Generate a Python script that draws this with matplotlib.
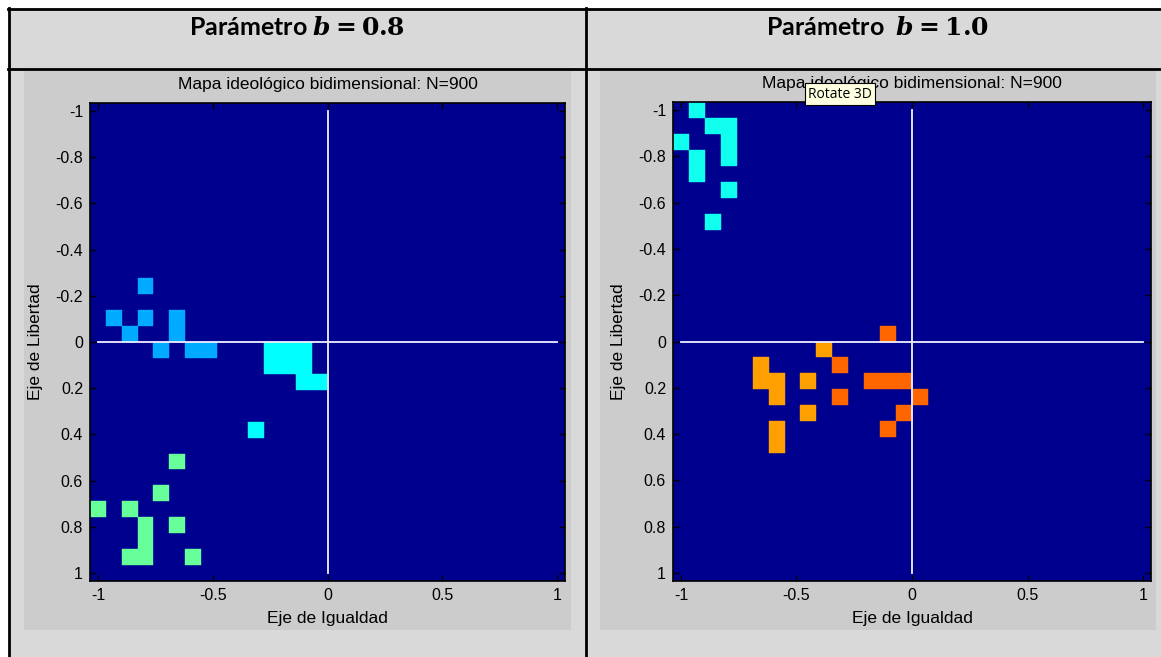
import numpy as np
import matplotlib
matplotlib.use("Agg")
import matplotlib.pyplot as plt
from matplotlib.patches import Rectangle

# 30x30 lattice of agents (N=900); cells given as (column, row) indices
grid = np.linspace(-1, 1, 30)

# b = 0.8
blue_left = [(3, 11), (1, 13), (3, 13), (2, 14), (5, 13), (5, 14), (4, 15), (6, 15), (7, 15)]
cyan_left = [(11, 15), (12, 15), (13, 15), (11, 16), (12, 16), (13, 16), (13, 17), (14, 17), (10, 20)]
green_left = [(5, 22), (4, 24), (0, 25), (2, 25), (3, 26), (3, 27), (3, 28), (2, 28), (5, 26), (6, 28)]

# b = 1.0
cyan_right = [(1, 0), (2, 1), (3, 1), (3, 2), (3, 3), (0, 2), (1, 3), (1, 4), (3, 5), (2, 7)]
orange_right = [(9, 15), (5, 16), (5, 17), (6, 17), (6, 18), (8, 17), (8, 19), (6, 20), (6, 21)]
red_right = [(13, 14), (10, 16), (10, 18), (12, 17), (13, 17), (14, 17), (15, 18), (14, 19), (13, 20)]

x_ticks = [-1, -0.5, 0, 0.5, 1]
x_tick_labels = ["-1", "-0.5", "0", "0.5", "1"]
y_ticks = [-1, -0.8, -0.6, -0.4, -0.2, 0, 0.2, 0.4, 0.6, 0.8, 1]
y_tick_labels = ["-1", "-0.8", "-0.6", "-0.4", "-0.2", "0", "0.2", "0.4", "0.6", "0.8", "1"]

plt.rcParams['mathtext.fontset'] = 'custom'
plt.rcParams['mathtext.rm'] = 'DejaVu Serif:bold'
plt.rcParams['mathtext.it'] = 'DejaVu Serif:italic:bold'
plt.rcParams['mathtext.bf'] = 'DejaVu Serif:bold'

W, H = 1161, 657
fig = plt.figure(figsize=(W / 100, H / 100), dpi=100, facecolor='white')


def box(x0, y0, x1, y1, color):
    fig.add_artist(Rectangle((x0 / W, 1 - y1 / H), (x1 - x0) / W, (y1 - y0) / H,
                             transform=fig.transFigure, facecolor=color,
                             edgecolor='none', zorder=0))


def hline(x0, x1, y):
    fig.add_artist(plt.Line2D([x0 / W, x1 / W], [1 - y / H, 1 - y / H],
                              transform=fig.transFigure, color='black', lw=2, zorder=5))


def vline(x, y0, y1):
    fig.add_artist(plt.Line2D([x / W, x / W], [1 - y0 / H, 1 - y1 / H],
                              transform=fig.transFigure, color='black', lw=2, zorder=5))


# table background and figure windows
box(9, 9, W, H, '#d9d9d9')
box(24, 70, 571, 630, '#cccccc')
box(600, 70, 1156, 630, '#cccccc')
hline(8, W, 9)
hline(8, W, 69)
vline(9, 8, H)
vline(586, 8, H)

fig.text(297 / W, 1 - 35 / H, r"Parámetro $b=\mathbf{0.8}$", fontsize=18,
         fontweight='bold', family='Lato', ha='center', va='baseline')
fig.text(877 / W, 1 - 35 / H, r"Parámetro  $b=\mathbf{1.0}$", fontsize=18,
         fontweight='bold', family='Lato', ha='center', va='baseline')

half = (grid[1] - grid[0]) / 2
lim = 1 + half


def draw_panel(rect, groups):
    ax = fig.add_axes(rect)
    ax.set_facecolor('#00008f')
    for cells, color in groups:
        for i, j in cells:
            ax.add_patch(Rectangle((grid[i] - half, grid[j] - half), 2 * half, 2 * half,
                                   facecolor=color, edgecolor=color, lw=0.3))
    ax.plot([-1, 1], [0, 0], color='#f0f0ff', lw=1.3)
    ax.plot([0, 0], [-1, 1], color='#f0f0ff', lw=1.3)
    ax.set_xlim(-lim, lim)
    ax.set_ylim(lim, -lim)
    ax.set_xticks(x_ticks)
    ax.set_xticklabels(x_tick_labels)
    ax.set_yticks(y_ticks)
    ax.set_yticklabels(y_tick_labels)
    ax.tick_params(direction='in', length=4, width=1, top=True, right=True,
                   labelsize=11.5, pad=5, colors='black')
    for s in ax.spines.values():
        s.set_linewidth(1.2)
    ax.set_title("Mapa ideológico bidimensional: N=900", fontsize=12.5, pad=10)
    ax.set_xlabel("Eje de Igualdad", fontsize=12.5, labelpad=6)
    ax.set_ylabel("Eje de Libertad", fontsize=12.5, labelpad=9)
    return ax


plt.rcParams['font.family'] = ['Liberation Sans', 'DejaVu Sans']

draw_panel([90 / W, 1 - 581 / H, 475 / W, 478 / H],
           [(blue_left, '#00aaff'), (cyan_left, '#00ffff'), (green_left, '#66ff99')])
ax2 = draw_panel([673 / W, 1 - 581 / H, 478 / W, 479 / H],
                 [(cyan_right, '#10ffee'), (orange_right, '#ffa000'), (red_right, '#ff6600')])

fig.text(840 / W, 1 - 94 / H, "Rotate 3D", fontsize=10, family='Open Sans',
         ha='center', va='center', zorder=10,
         bbox=dict(boxstyle='square,pad=0.25', facecolor='#ffffe1', edgecolor='black', lw=0.8))

fig.savefig("out.png", dpi=100, facecolor=fig.get_facecolor())
